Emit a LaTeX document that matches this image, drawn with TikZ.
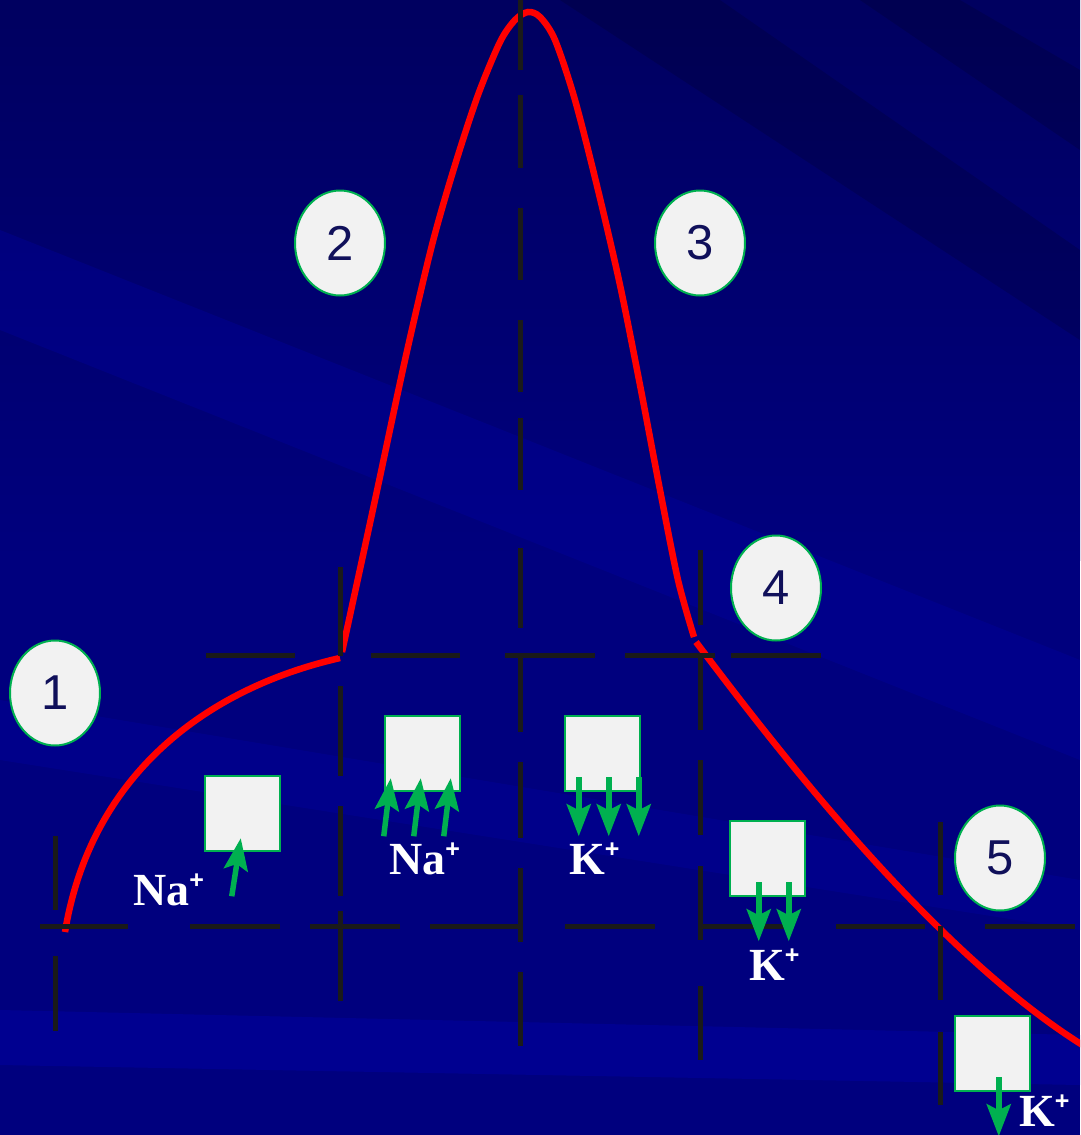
\documentclass[tikz,border=0pt]{standalone}
\usepackage{fontspec}
\setmainfont{Liberation Serif}
\newfontfamily\numfont{Liberation Sans}
\usetikzlibrary{arrows.meta,shapes.geometric}
\definecolor{bgbase}{HTML}{00007E}
\definecolor{bgdark}{HTML}{000060}
\definecolor{bglight}{HTML}{0000A8}
\definecolor{divcol}{HTML}{1A1A1A}
\definecolor{gatecol}{HTML}{00B050}
\definecolor{boxfill}{HTML}{F2F2F2}
\definecolor{numcol}{HTML}{10105A}
\newcommand{\ionlbl}[1]{#1\raisebox{17pt}{\numfont\bfseries\fontsize{25}{25}\selectfont +}}

\begin{document}
\begin{tikzpicture}[x=1pt,y=-1pt,
  divline/.style={draw=divcol,line width=5pt},
  ap/.style={draw=red,line width=6.5pt},
  stage/.style={ellipse,draw=gatecol,line width=2pt,fill=boxfill,minimum width=90pt,minimum height=105pt,inner sep=0pt,text=numcol,font=\numfont\fontsize{49}{49}\selectfont},
  chan/.style={draw=gatecol,line width=2.5pt,fill=boxfill,minimum size=75pt,inner sep=0pt},
  flux/.style={-{Stealth[length=32pt,width=24pt,inset=6pt]},draw=gatecol,line width=5.5pt},
  ion/.style={anchor=base west,inner sep=0pt,text=white,font=\bfseries\fontsize{46}{46}\selectfont}]
\clip (0,0) rectangle (1080,1135);
\fill[bgbase] (0,0) rectangle (1080,1135);
\shade[top color=bgdark,bottom color=bgbase] (0,0) rectangle (1080,560);
\fill[black,opacity=.15] (560,0) -- (720,0) -- (1080,250) -- (1080,340) -- cycle;
\fill[black,opacity=.15] (860,0) -- (960,0) -- (1080,70) -- (1080,150) -- cycle;
\fill[bglight,opacity=.3] (0,230) -- (1080,660) -- (1080,760) -- (0,330) -- cycle;
\fill[bglight,opacity=.3] (0,700) -- (1080,880) -- (1080,930) -- (0,760) -- cycle;
\fill[bglight,opacity=.45] (0,1010) -- (1080,1035) -- (1080,1085) -- (0,1065) -- cycle;

\draw[ap] (65,932) .. controls (90,780) and (200,690) .. (340,658);
\draw[ap] plot[smooth] coordinates {(342,652) (375,500) (405,360) (432,245) (455,165)
  (478,95) (500,42) (515,20) (528,12) (540,17) (555,40) (575,100) (598,190) (620,285)
  (640,385) (660,490) (678,580) (694,637)};
\draw[ap] (696,642) .. controls (770,740) and (930,950) .. (1084,1046);

\foreach \a/\b in {0/70,95/168,208/280,320/392,418/490,548/628,658/732,762/838,868/942,972/1046}
  \draw[divline] (520,\a) -- (520,\b);
\foreach \a/\b in {567/656,686/776,806/896,911/1001}
  \draw[divline] (340,\a) -- (340,\b);
\foreach \a/\b in {550/625,655/730,760/835,866/940,986/1060}
  \draw[divline] (700,\a) -- (700,\b);
\foreach \a/\b in {836/910,956/1031}
  \draw[divline] (55,\a) -- (55,\b);
\foreach \a/\b in {822/895,926/1000,1032/1105}
  \draw[divline] (940,\a) -- (940,\b);
\foreach \a/\b in {206/295,371/460,505/595,625/715,731/821}
  \draw[divline] (\a,655) -- (\b,655);
\foreach \a/\b in {40/128,190/280,310/400,430/518,565/655,702/790,836/925,985/1075}
  \draw[divline] (\a,926) -- (\b,926);

\node[stage] (e1) at (55,693) {1};
\node[stage] (e2) at (340,243) {2};
\node[stage] (e3) at (700,243) {3};
\node[stage] (e4) at (776,588) {4};
\node[stage] (e5) at (1000,858) {5};

\node[chan] (sq1) at (242.5,813.5) {};
\node[chan] (sq2) at (422.5,753.5) {};
\node[chan] (sq3) at (602.5,753.5) {};
\node[chan] (sq4) at (767.5,858.5) {};
\node[chan] (sq5) at (992.5,1053.5) {};

\draw[flux] ([shift={(28,44)}]sq1.south west) -- ++(9,-58);
\foreach \dx in {0,30,60}
  \draw[flux] ([shift={(\dx,44)}]sq2.south west) -- ++(7,-58);
\foreach \dx in {15,45,75}
  \draw[flux] ([shift={(\dx,-15)}]sq3.south west) -- ++(0,59);
\foreach \dx in {30,60}
  \draw[flux] ([shift={(\dx,-15)}]sq4.south west) -- ++(0,59);
\draw[flux] ([shift={(45,-15)}]sq5.south west) -- ++(0,59);

\node[ion] (na1) at (133,905) {\ionlbl{Na}};
\node[ion] (na2) at (389,874) {\ionlbl{Na}};
\node[ion] (k3) at (569,874) {\ionlbl{K}};
\node[ion] (k4) at (749,980) {\ionlbl{K}};
\node[ion] (k5) at (1019,1126) {\ionlbl{K}};
\end{tikzpicture}
\end{document}
